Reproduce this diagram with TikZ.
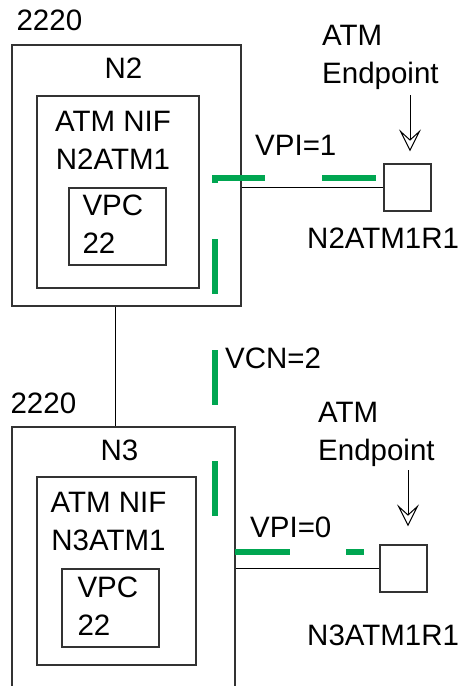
\documentclass[tikz,border=0pt]{standalone}
\usepackage{xcolor}
\usepackage{fontspec}
\setmainfont{Liberation Sans}
\usepackage{tikz}
\usetikzlibrary{positioning, arrows.meta}

\definecolor{vcgreen}{RGB}{0,166,81}

\begin{document}
\begin{tikzpicture}[x=1pt, y=-1pt,
        every node/.style={font=\fontsize{29.5}{38}\selectfont},
        box/.style={draw=black!80, line width=1.3pt, inner sep=0pt},
        lbl/.style={inner sep=0pt},
        wire/.style={draw=black, line width=1pt},
        ptr/.style={wire, -{Stealth[open, length=22pt, width=22pt, inset=10pt]}},
        vcpath/.style={draw=vcgreen, line width=6.5pt, dash pattern=on 54.5pt off 56.5pt}]

        \useasboundingbox (0,0) rectangle (464,686);
        \clip (0,0) rectangle (464,686);

        % upper node
        \node[box] (n2) [minimum width=229pt, minimum height=261pt] at (126.5,175.5) {};
        \node[box] (nif2) [minimum width=162pt, minimum height=192pt] at (118,192) {};
        \node[box] (vpc2) [minimum width=97pt, minimum height=77pt] at (117.5,226.5) {};
        \node[box] (ep2) [minimum width=47pt, minimum height=47pt] at (407.5,187.5) {};

        \node[lbl] (c2) [above right=13pt and 5pt of n2.north west] {2220};
        \node[lbl] (t2) [below=13pt of n2.north, xshift=-3pt] {N2};
        \node[lbl] (nt2) [below=16pt of nif2.north, xshift=-5pt, align=center] {ATM NIF\\N2ATM1};
        \node[lbl] (vt2) [below right=7pt and 14pt of vpc2.north west, align=left] {VPC\\22};
        \node[lbl] (at2) [anchor=north west, align=left] at (322,25) {ATM\\Endpoint};
        \node[lbl] (vpi2) [anchor=north west] at (255,135) {VPI=1};
        \node[lbl] (r2) [anchor=north west] at (307,228) {N2ATM1R1};

        % lower node
        \node[box] (n3) [minimum width=223pt, minimum height=293pt] at (123.5,573.5) {};
        \node[box] (nif3) [minimum width=159pt, minimum height=188pt] at (116.5,571) {};
        \node[box] (vpc3) [minimum width=97pt, minimum height=78pt] at (110.5,608) {};
        \node[box] (ep3) [minimum width=47pt, minimum height=47pt] at (403.5,568.5) {};

        \node[lbl] (c3) [above right=12pt and -1pt of n3.north west] {2220};
        \node[lbl] (t3) [below=13pt of n3.north, xshift=-4pt] {N3};
        \node[lbl] (nt3) [below=16pt of nif3.north, xshift=-8pt, align=center] {ATM NIF\\N3ATM1};
        \node[lbl] (vt3) [below right=8pt and 16pt of vpc3.north west, align=left] {VPC\\22};
        \node[lbl] (at3) [anchor=north west, align=left] at (318,402) {ATM\\Endpoint};
        \node[lbl] (vpi3) [anchor=north west] at (250,517) {VPI=0};
        \node[lbl] (vcn) [anchor=north west] at (225,348) {VCN=2};
        \node[lbl] (r3) [anchor=north west] at (307,625) {N3ATM1R1};

        \coordinate (tail2) at (410,95);
        \coordinate (tail3) at (408,470);
        \coordinate (vc2) at (376,178);
        \coordinate (vc3) at (364,552);

        % links
        \draw[wire] (n2.south -| 115,0) -- (n3.north -| 115,0);
        \draw[wire] (n2.east |- ep2.west) -- (ep2.west);
        \draw[wire] (n3.east |- ep3.west) -- (ep3.west);
        \draw[ptr, shorten >=12pt] (tail2) -- (tail2 |- ep2.north);
        \draw[ptr, shorten >=18pt] (tail3) -- (tail3 |- ep3.north);

        % virtual connection
        \draw[vcpath] (vc2) -- (215,178) -- (215,552) -- (vc3);

\end{tikzpicture}
\end{document}
